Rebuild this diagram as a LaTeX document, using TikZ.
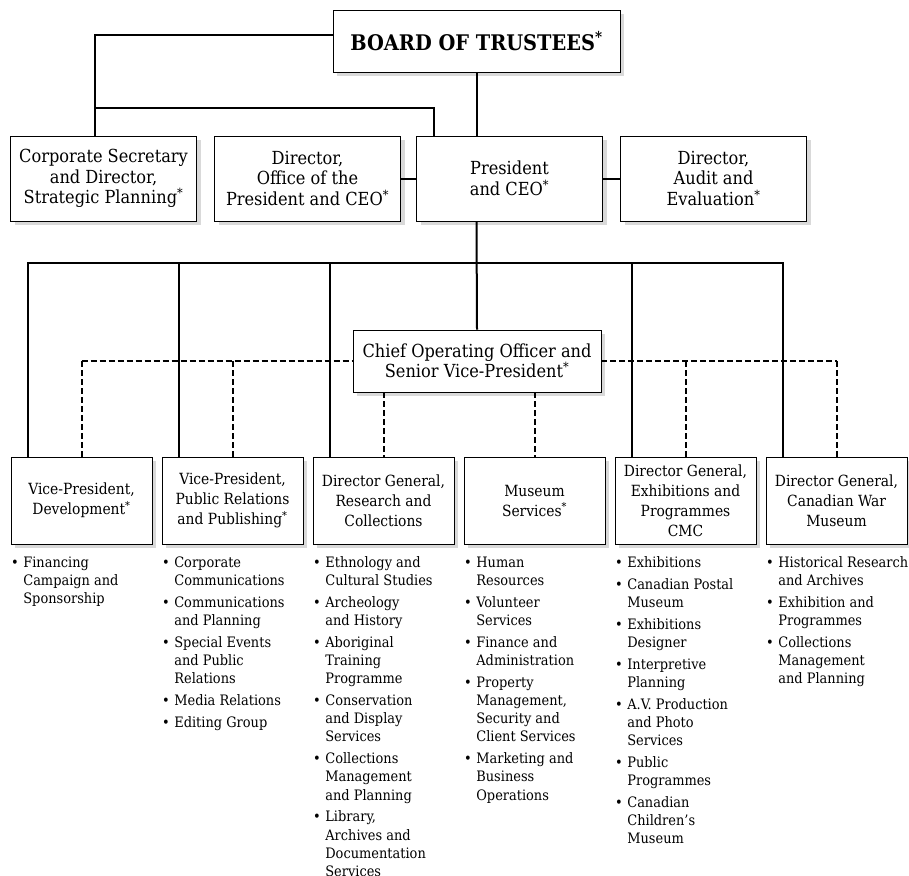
\documentclass[tikz,border=0pt]{standalone}
\usepackage{fontspec}
\setmainfont{DejaVu Serif Condensed}
\usepackage{tikz}
\usetikzlibrary{shadows}

\begin{document}
\begin{tikzpicture}[x=1pt,y=-1pt,
	box/.style={draw, fill=white, line width=0.8pt, align=center, inner sep=2pt,
		drop shadow={shadow xshift=4pt, shadow yshift=-4pt, fill=black!15, opacity=1}},
	headbox/.style={box, minimum width=186pt, minimum height=85pt, font=\fontsize{18}{20.5}\selectfont},
	unitbox/.style={box, minimum width=141pt, minimum height=87pt, font=\fontsize{15.4}{20}\selectfont},
	duties/.style={anchor=north west, inner sep=0pt, font=\fontsize{14.4}{18.2}\selectfont},
	link/.style={line width=2pt},
	dotline/.style={line width=2pt, dash pattern=on 6pt off 3pt}]
	\useasboundingbox (0,0) rectangle (909,875);

	% board and the offices under it
	\node[box, minimum width=287pt, minimum height=62pt, font=\fontsize{21.5}{24}\selectfont\bfseries] (board) at (476.5,41) {BOARD OF TRUSTEES\textsuperscript{*}};
	\node[headbox] (corp) at (103.5,178.5) {Corporate Secretary\\and Director,\\Strategic Planning\textsuperscript{*}};
	\node[headbox] (office) at (307.5,178.5) {Director,\\Office of the\\President and CEO\textsuperscript{*}};
	\node[headbox] (pres) at (509.5,178.5) {President\\and CEO\textsuperscript{*}};
	\node[headbox] (audit) at (713.5,178.5) {Director,\\Audit and\\Evaluation\textsuperscript{*}};
	\node[box, minimum width=248pt, minimum height=62pt, font=\fontsize{18}{20.5}\selectfont] (coo) at (477,361) {Chief Operating Officer and\\Senior Vice-President\textsuperscript{*}};

	% branches
	\node[unitbox] (vpd) at (81.5,500.5) {Vice-President,\\Development\textsuperscript{*}};
	\node[unitbox] (vpp) at (232.5,500.5) {Vice-President,\\Public Relations\\and Publishing\textsuperscript{*}};
	\node[unitbox] (dgr) at (383.5,500.5) {Director General,\\Research and\\Collections};
	\node[unitbox] (mus) at (534.5,500.5) {Museum\\Services\textsuperscript{*}};
	\node[unitbox] (dge) at (685.5,500.5) {Director General,\\Exhibitions and\\Programmes\\CMC};
	\node[unitbox] (dgw) at (836.5,500.5) {Director General,\\Canadian War\\Museum};

	% lists
	\node[duties] (lvpd) at (11,554.3) {\begin{tabular}{@{}l@{\hspace{4.5pt}}l@{}}
		\textbullet & Financing\\ & Campaign and\\ & Sponsorship
	\end{tabular}};
	\node[duties] (lvpp) at (162,554.3) {\begin{tabular}{@{}l@{\hspace{4.5pt}}l@{}}
		\textbullet & Corporate\\ & Communications\\[3.6pt]
		\textbullet & Communications\\ & and Planning\\[3.6pt]
		\textbullet & Special Events\\ & and Public\\ & Relations\\[3.6pt]
		\textbullet & Media Relations\\[3.6pt]
		\textbullet & Editing Group
	\end{tabular}};
	\node[duties] (ldgr) at (313,554.3) {\begin{tabular}{@{}l@{\hspace{4.5pt}}l@{}}
		\textbullet & Ethnology and\\ & Cultural Studies\\[3.6pt]
		\textbullet & Archeology\\ & and History\\[3.6pt]
		\textbullet & Aboriginal\\ & Training\\ & Programme\\[3.6pt]
		\textbullet & Conservation\\ & and Display\\ & Services\\[3.6pt]
		\textbullet & Collections\\ & Management\\ & and Planning\\[3.6pt]
		\textbullet & Library,\\ & Archives and\\ & Documentation\\ & Services
	\end{tabular}};
	\node[duties] (lmus) at (464,554.3) {\begin{tabular}{@{}l@{\hspace{4.5pt}}l@{}}
		\textbullet & Human\\ & Resources\\[3.6pt]
		\textbullet & Volunteer\\ & Services\\[3.6pt]
		\textbullet & Finance and\\ & Administration\\[3.6pt]
		\textbullet & Property\\ & Management,\\ & Security and\\ & Client Services\\[3.6pt]
		\textbullet & Marketing and\\ & Business\\ & Operations
	\end{tabular}};
	\node[duties] (ldge) at (615,554.3) {\begin{tabular}{@{}l@{\hspace{4.5pt}}l@{}}
		\textbullet & Exhibitions\\[3.6pt]
		\textbullet & Canadian Postal\\ & Museum\\[3.6pt]
		\textbullet & Exhibitions\\ & Designer\\[3.6pt]
		\textbullet & Interpretive\\ & Planning\\[3.6pt]
		\textbullet & A.V. Production\\ & and Photo\\ & Services\\[3.6pt]
		\textbullet & Public\\ & Programmes\\[3.6pt]
		\textbullet & Canadian\\ & Children's\\ & Museum
	\end{tabular}};
	\node[duties] (ldgw) at (766,554.3) {\begin{tabular}{@{}l@{\hspace{4.5pt}}l@{}}
		\textbullet & Historical Research\\ & and Archives\\[3.6pt]
		\textbullet & Exhibition and\\ & Programmes\\[3.6pt]
		\textbullet & Collections\\ & Management\\ & and Planning
	\end{tabular}};

	% solid lines
	\coordinate (mid) at (0,108);
	\coordinate (bus) at (0,263);
	\draw[link] ([yshift=6pt]board.west) -| ([xshift=-8.5pt]corp.north);
	\draw[link] ([xshift=-8.5pt]corp.north |- mid) -| ([xshift=-75.5pt]pres.north);
	\draw[link] (board.south) -- (board.south |- pres.north);
	\draw[link] (office.east) -- (pres.west); \draw[link] (pres.east) -- (audit.west);
	\draw[link] (board.south |- pres.south) -- (coo.north);
	\foreach \b in {vpd,vpp,dgr,dge,dgw}{
		\coordinate (s\b) at ([xshift=17.5pt]\b.north west);
		\draw[link] (s\b) -- (s\b |- bus);
	}
	\draw[link] ([xshift=-1pt]svpd |- bus) -- ([xshift=1pt]sdgw |- bus);

	% dashed lines
	\draw[dotline] (vpd.north |- coo.west) -- (coo.west); \draw[dotline] (coo.east) -- (dgw.north |- coo.east);
	\foreach \b in {vpd,vpp,dge,dgw} \draw[dotline] (\b.north |- coo.west) -- (\b.north);
	\foreach \b in {dgr,mus} \draw[dotline] (\b.north |- coo.south) -- (\b.north);
\end{tikzpicture}
\end{document}
